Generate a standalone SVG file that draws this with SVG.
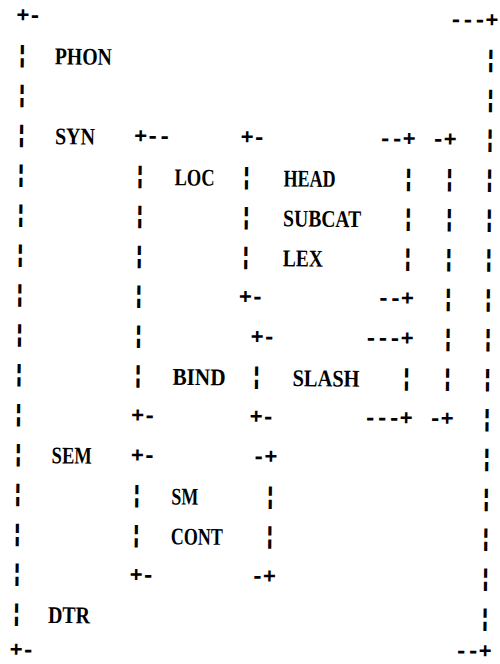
<svg xmlns="http://www.w3.org/2000/svg" width="500" height="664" viewBox="0 0 500 664">
<style>
.m{font-family:"Liberation Mono",monospace;font-size:22px;letter-spacing:-1.2px;font-weight:bold;fill:#000}
.b{font-family:"Liberation Mono",monospace;font-size:24px;font-weight:bold;fill:#000;text-anchor:middle}
.l{font-family:"Liberation Serif",serif;font-size:24px;font-weight:bold;fill:#000}
</style>
<rect width="500" height="664" fill="#fff"/>
<g transform="rotate(0.6 250 332)">
<g id="connectors">
<g id="outer-matrix">
<text class="m" x="13" y="24.5">+-</text>
<text class="m" x="446" y="24.5">---+</text>
<text class="b" x="19.5" y="64.4">¦</text><text class="b" x="488" y="64.4">¦</text>
<text class="b" x="19.5" y="104.3">¦</text><text class="b" x="488" y="104.3">¦</text>
<text class="b" x="19.5" y="144.2">¦</text><text class="b" x="488" y="144.2">¦</text>
<text class="b" x="19.5" y="184.1">¦</text><text class="b" x="488" y="184.1">¦</text>
<text class="b" x="19.5" y="224">¦</text><text class="b" x="488" y="224">¦</text>
<text class="b" x="19.5" y="263.9">¦</text><text class="b" x="488" y="263.9">¦</text>
<text class="b" x="19.5" y="303.8">¦</text><text class="b" x="488" y="303.8">¦</text>
<text class="b" x="19.5" y="343.7">¦</text><text class="b" x="488" y="343.7">¦</text>
<text class="b" x="19.5" y="383.6">¦</text><text class="b" x="488" y="383.6">¦</text>
<text class="b" x="19.5" y="423.5">¦</text><text class="b" x="488" y="423.5">¦</text>
<text class="b" x="19.5" y="463.4">¦</text><text class="b" x="488" y="463.4">¦</text>
<text class="b" x="19.5" y="503.3">¦</text><text class="b" x="488" y="503.3">¦</text>
<text class="b" x="19.5" y="543.2">¦</text><text class="b" x="488" y="543.2">¦</text>
<text class="b" x="19.5" y="583.1">¦</text><text class="b" x="488" y="583.1">¦</text>
<text class="b" x="19.5" y="623">¦</text><text class="b" x="488" y="623">¦</text>
<text class="m" x="13" y="659">+-</text>
<text class="m" x="458" y="655.5">--+</text>
</g>
<g id="syn-matrix">
<text class="m" x="132" y="144.2">+--</text>
<text class="m" x="429.5" y="144.2">-+</text>
<text class="b" x="138.5" y="184.1">¦</text><text class="b" x="448" y="184.1">¦</text>
<text class="b" x="138.5" y="224">¦</text><text class="b" x="448" y="224">¦</text>
<text class="b" x="138.5" y="263.9">¦</text><text class="b" x="448" y="263.9">¦</text>
<text class="b" x="138.5" y="303.8">¦</text><text class="b" x="448" y="303.8">¦</text>
<text class="b" x="138.5" y="343.7">¦</text><text class="b" x="448" y="343.7">¦</text>
<text class="b" x="138.5" y="383.6">¦</text><text class="b" x="448" y="383.6">¦</text>
<text class="m" x="132" y="423.5">+-</text>
<text class="m" x="429.5" y="423.5">-+</text>
</g>
<g id="loc-matrix">
<text class="m" x="238.5" y="144.2">+-</text>
<text class="m" x="376.5" y="144.2">--+</text>
<text class="b" x="245" y="184.1">¦</text><text class="b" x="407" y="184.1">¦</text>
<text class="b" x="245" y="224">¦</text><text class="b" x="407" y="224">¦</text>
<text class="b" x="245" y="263.9">¦</text><text class="b" x="407" y="263.9">¦</text>
<text class="m" x="238.5" y="303.8">+-</text>
<text class="m" x="376.5" y="303.8">--+</text>
</g>
<g id="bind-matrix">
<text class="m" x="250.5" y="343.7">+-</text>
<text class="m" x="364.5" y="343.7">---+</text>
<text class="b" x="257" y="383.6">¦</text><text class="b" x="407" y="383.6">¦</text>
<text class="m" x="250.5" y="423.5">+-</text>
<text class="m" x="364.5" y="423.5">---+</text>
</g>
<g id="sem-matrix">
<text class="m" x="132" y="463.4">+-</text>
<text class="m" x="253.5" y="463.4">-+</text>
<text class="b" x="138.5" y="503.3">¦</text><text class="b" x="272" y="503.3">¦</text>
<text class="b" x="138.5" y="543.2">¦</text><text class="b" x="272" y="543.2">¦</text>
<text class="m" x="132" y="583.1">+-</text>
<text class="m" x="253.5" y="583.1">-+</text>
</g>
</g>
<g id="node-phon"><text class="l" x="52" y="66.4" textLength="57" lengthAdjust="spacingAndGlyphs">PHON</text></g>
<g id="node-syn"><text class="l" x="53" y="146.2" textLength="40" lengthAdjust="spacingAndGlyphs">SYN</text></g>
<g id="node-loc"><text class="l" x="173" y="186.1" textLength="40" lengthAdjust="spacingAndGlyphs">LOC</text></g>
<g id="node-head"><text class="l" x="282" y="186.1" textLength="52" lengthAdjust="spacingAndGlyphs">HEAD</text></g>
<g id="node-subcat"><text class="l" x="282" y="226" textLength="78" lengthAdjust="spacingAndGlyphs">SUBCAT</text></g>
<g id="node-lex"><text class="l" x="282" y="265.9" textLength="40" lengthAdjust="spacingAndGlyphs">LEX</text></g>
<g id="node-bind"><text class="l" x="173" y="385.6" textLength="53" lengthAdjust="spacingAndGlyphs">BIND</text></g>
<g id="node-slash"><text class="l" x="293" y="385.6" textLength="67" lengthAdjust="spacingAndGlyphs">SLASH</text></g>
<g id="node-sem"><text class="l" x="53" y="465.4" textLength="40" lengthAdjust="spacingAndGlyphs">SEM</text></g>
<g id="node-sm"><text class="l" x="173" y="505.3" textLength="27" lengthAdjust="spacingAndGlyphs">SM</text></g>
<g id="node-cont"><text class="l" x="173" y="545.2" textLength="52" lengthAdjust="spacingAndGlyphs">CONT</text></g>
<g id="node-dtr"><text class="l" x="51" y="625" textLength="42" lengthAdjust="spacingAndGlyphs">DTR</text></g>
</g>
</svg>
